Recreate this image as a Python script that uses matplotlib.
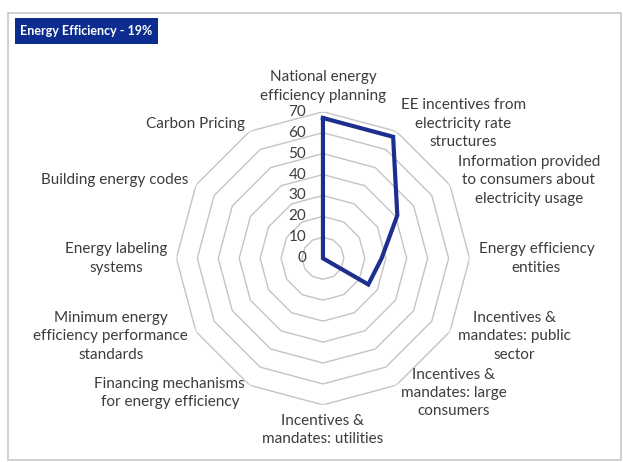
import numpy as np
import matplotlib.pyplot as plt
from matplotlib.patches import Rectangle

categories = [
    "National energy\nefficiency planning",
    "EE incentives from\nelectricity rate\nstructures",
    "Information provided\nto consumers about\nelectricity usage",
    "Energy efficiency\nentities",
    "Incentives &\nmandates: public\nsector",
    "Incentives &\nmandates: large\nconsumers",
    "Incentives &\nmandates: utilities",
    "Financing mechanisms\nfor energy efficiency",
    "Minimum energy\nefficiency performance\nstandards",
    "Energy labeling\nsystems",
    "Building energy codes",
    "Carbon Pricing",
]
scores = [67, 67, 41, 28, 25, 0, 0, 0, 0, 0, 0, 0]
rticks = [0, 10, 20, 30, 40, 50, 60, 70]
title = "Energy Efficiency - 19%"

line_color = "#1c2f8e"
grid_color = "#c4c4c4"
text_color = "#3c3c3c"
font = ["Lato", "DejaVu Sans"]

fig = plt.figure(figsize=(6.23, 4.62), dpi=100)
fig.patch.set_facecolor("white")

# outer frame of the chart area
fig.patches.append(Rectangle((0.0128, 0.004), 0.984, 0.968, transform=fig.transFigure,
                             fill=False, edgecolor="#c8c8c8", linewidth=1.2))

# title box
fig.patches.append(Rectangle((0.0241, 0.9048), 0.2295, 0.0563, transform=fig.transFigure,
                             facecolor="#0d2c8f", edgecolor="none"))
fig.text(0.0241 + 0.2295 / 2, 0.9048 + 0.0563 / 2, title, fontsize=9, fontweight="bold",
         color="white", family=font, ha="center", va="center")

ax = fig.add_axes([0.2831, 0.1236, 0.4706, 0.6346], projection="polar")
ax.set_theta_zero_location("N")
ax.set_theta_direction(-1)
ax.set_ylim(0, 70)
ax.grid(False)
ax.spines["polar"].set_visible(False)
ax.set_xticks([])
ax.set_yticks([])
ax.patch.set_alpha(0)

n = len(categories)
angles = np.linspace(0, 2 * np.pi, n, endpoint=False)
closed = np.append(angles, angles[0])

# polygon gridlines
for r in rticks[1:]:
    ax.plot(closed, [r] * (n + 1), color=grid_color, linewidth=1.0, zorder=1)

# radial tick labels left of the top spoke
for r in rticks:
    ax.annotate(str(r), xy=(0, r), xytext=(-12, 0), textcoords="offset points",
                ha="right", va="center", fontsize=11, color=text_color, family=font)

vals = np.append(scores, scores[0])
ax.plot(closed, vals, color=line_color, linewidth=3.0, zorder=3, solid_joinstyle="miter")

# category labels
gap = 6.5
for ang, lab in zip(angles, categories):
    s, c = np.sin(ang), np.cos(ang)
    if s > 0.1:
        ha = "left"
    elif s < -0.1:
        ha = "right"
    else:
        ha = "center"
    if abs(s) > 0.1:
        va = "center"
    elif c > 0:
        va = "bottom"
    else:
        va = "top"
    ax.annotate(lab, xy=(ang, 70), xytext=(gap * s, gap * c), textcoords="offset points",
                ha=ha, va=va, multialignment="center", fontsize=11,
                color=text_color, family=font, linespacing=1.4)

plt.savefig("out.png", dpi=100)
